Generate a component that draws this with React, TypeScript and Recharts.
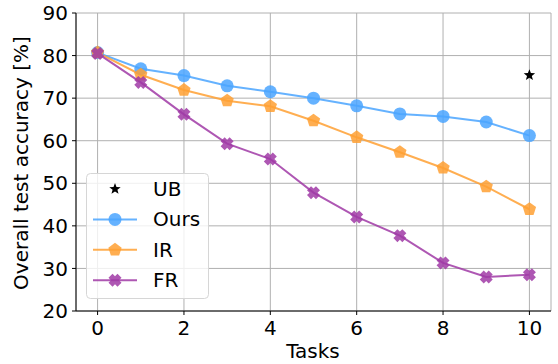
import { CartesianGrid, Line, LineChart, XAxis, YAxis } from 'recharts';

const tasks = [0, 1, 2, 3, 4, 5, 6, 7, 8, 9, 10];
const ours = [80.7, 76.9, 75.3, 72.9, 71.5, 70.0, 68.2, 66.3, 65.7, 64.4, 61.2];
const ir = [80.7, 75.5, 71.9, 69.4, 68.1, 64.7, 60.8, 57.3, 53.6, 49.2, 43.9];
const fr = [80.5, 73.7, 66.2, 59.3, 55.7, 47.8, 42.1, 37.7, 31.3, 28.0, 28.5];
const ubTask = 10;
const ubValue = 75.4;
const xTicks = [0, 2, 4, 6, 8, 10];
const yTicks = [20, 30, 40, 50, 60, 70, 80, 90];
const seriesNames = ['UB', 'Ours', 'IR', 'FR'];

const BLUE = '#4aa5ff';
const ORANGE = '#ffa033';
const PURPLE = '#a03aa6';
const FONT = 'DejaVu Sans, sans-serif';

const data = tasks.map((t, i) => ({
  x: t,
  ours: ours[i],
  ir: ir[i],
  fr: fr[i],
  ub: t === ubTask ? ubValue : null,
}));

function pentagonPath(cx, cy, r) {
  const pts = [];
  for (let k = 0; k < 5; k++) {
    const a = -Math.PI / 2 + (k * 2 * Math.PI) / 5;
    pts.push(`${cx + r * Math.cos(a)},${cy + r * Math.sin(a)}`);
  }
  return 'M' + pts.join('L') + 'Z';
}

function starPath(cx, cy, r) {
  const pts = [];
  for (let k = 0; k < 10; k++) {
    const rr = k % 2 === 0 ? r : r * 0.42;
    const a = -Math.PI / 2 + (k * Math.PI) / 5;
    pts.push(`${cx + rr * Math.cos(a)},${cy + rr * Math.sin(a)}`);
  }
  return 'M' + pts.join('L') + 'Z';
}

function xPath(cx, cy, r) {
  // filled "X" marker, chunky like matplotlib's 'X'
  const w = r * 0.62;
  const pts = [
    [0, -w], [r - w, -r], [r, -r + w], [w, 0], [r, r - w], [r - w, r],
    [0, w], [-r + w, r], [-r, r - w], [-w, 0], [-r, -r + w], [-r + w, -r],
  ];
  return 'M' + pts.map(([a, b]) => `${cx + a},${cy + b}`).join('L') + 'Z';
}

const marker = {
  UB: (cx, cy) => <path d={starPath(cx, cy, 6)} fill="#000" />,
  Ours: (cx, cy) => <circle cx={cx} cy={cy} r={6.5} fill={BLUE} fillOpacity={0.85} />,
  IR: (cx, cy) => <path d={pentagonPath(cx, cy, 7)} fill={ORANGE} fillOpacity={0.85} />,
  FR: (cx, cy) => <path d={xPath(cx, cy, 6.5)} fill={PURPLE} fillOpacity={0.85} />,
};
const lineColor = { UB: null, Ours: BLUE, IR: ORANGE, FR: PURPLE };

const makeDot = (name) => (p) =>
  p.cx == null || p.value == null ? null : <g key={p.key}>{marker[name](p.cx, p.cy)}</g>;

function Overlay() {
  return (
    <svg width={558} height={364} style={{ position: 'absolute', left: 0, top: 0, pointerEvents: 'none' }}>
      <text transform="translate(28,163) rotate(-90)" textAnchor="middle" fill="#000" fontFamily={FONT} fontSize={20}>
        Overall test accuracy [%]
      </text>
      <text x={313} y={358} textAnchor="middle" fill="#000" fontFamily={FONT} fontSize={20}>
        Tasks
      </text>
      <rect x={86.5} y={173.5} width={122} height={125} rx={4} fill="#fff" fillOpacity={0.8} stroke="#d6d6d6" />
      {seriesNames.map((name, i) => {
        const cy = 189 + i * 30.4;
        return (
          <g key={name}>
            {lineColor[name] && (
              <line x1={93} x2={137} y1={cy} y2={cy} stroke={lineColor[name]} strokeOpacity={0.85} strokeWidth={2} />
            )}
            {marker[name](115, cy)}
            <text x={153} y={cy + 7} fill="#000" fontFamily={FONT} fontSize={20}>
              {name}
            </text>
          </g>
        );
      })}
    </svg>
  );
}

export default function App() {
  return (
    <div style={{ position: 'absolute', left: 0, top: 0, width: 558, height: 364 }}>
      <LineChart
        width={558}
        height={364}
        data={data}
        margin={{ top: 13, right: 7, bottom: 0, left: 30 }}
      >
        <CartesianGrid stroke="#b0b0b0" strokeWidth={1} horizontal vertical />
        <XAxis
          dataKey="x"
          type="number"
          domain={[-0.5, 10.5]}
          ticks={xTicks}
          interval={0}
          stroke="#000"
          tickSize={4}
          height={53}
          tick={{ fill: '#000', fontFamily: FONT, fontSize: 20 }}
          tickMargin={6}
        />
        <XAxis xAxisId="top" orientation="top" type="number" domain={[-0.5, 10.5]} tick={false} tickLine={false} stroke="#000" height={0} />
        <YAxis
          type="number"
          domain={[20, 90]}
          ticks={yTicks}
          interval={0}
          stroke="#000"
          tickSize={4}
          width={46}
          tick={{ fill: '#000', fontFamily: FONT, fontSize: 20 }}
          tickMargin={4}
        />
        <YAxis yAxisId="right" orientation="right" type="number" domain={[20, 90]} tick={false} tickLine={false} stroke="#000" width={0} />
        <Line dataKey="ours" stroke={BLUE} strokeOpacity={0.85} strokeWidth={2} dot={makeDot('Ours')} activeDot={false} isAnimationActive={false} />
        <Line dataKey="ir" stroke={ORANGE} strokeOpacity={0.85} strokeWidth={2} dot={makeDot('IR')} activeDot={false} isAnimationActive={false} />
        <Line dataKey="fr" stroke={PURPLE} strokeOpacity={0.85} strokeWidth={2} dot={makeDot('FR')} activeDot={false} isAnimationActive={false} />
        <Line dataKey="ub" stroke="none" dot={makeDot('UB')} activeDot={false} isAnimationActive={false} />
      </LineChart>
      <Overlay />
    </div>
  );
}
